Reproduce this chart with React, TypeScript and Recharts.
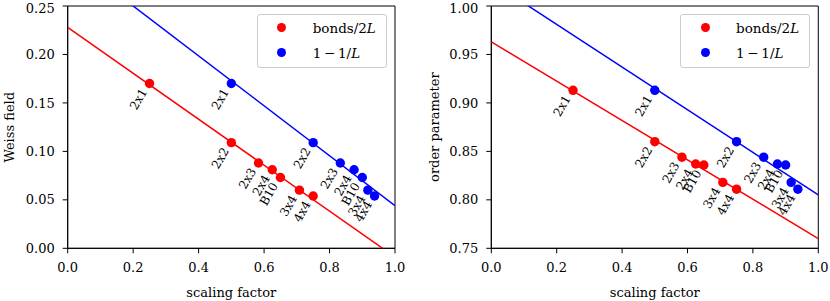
import React from "react";
import { ScatterChart, Scatter, XAxis, YAxis, ReferenceArea, Legend } from "recharts";

const FONT = '"DejaVu Serif", serif';

const sizeLabels = ["2x1", "2x2", "2x3", "2x4", "B10", "3x4", "4x4"];
const bondsScale = [0.25, 0.5, 0.583, 0.625, 0.65, 0.708, 0.75];
const invLScale = [0.5, 0.75, 0.833, 0.875, 0.9, 0.917, 0.9375];
const weissField = [0.17, 0.109, 0.088, 0.081, 0.073, 0.06, 0.054];
const orderParam = [0.913, 0.86, 0.844, 0.837, 0.836, 0.818, 0.811];

const fitX = [0, 1];
const weissBondsFit = [0.228, -0.009];
const weissInvLFit = [0.3015, 0.044];
const orderBondsFit = [0.963, 0.76];
const orderInvLFit = [1.025, 0.805];

const xTicks = [0, 0.2, 0.4, 0.6, 0.8, 1.0];
const weissTicks = [0, 0.05, 0.1, 0.15, 0.2, 0.25];
const orderTicks = [0.75, 0.8, 0.85, 0.9, 0.95, 1.0];

const RED = "#ff0000";
const BLUE = "#0000ff";

const toPoints = (xs: number[], ys: number[]) =>
  xs.map((x, i) => ({ x, y: ys[i], label: sizeLabels[i] }));
const toFit = (ys: number[]) => fitX.map((x, i) => ({ x, y: ys[i] }));

function makeDot(color: string) {
  return (props: any) => {
    const { cx, cy, payload } = props;
    const ax = cx - 2;
    const ay = cy + 8;
    return (
      <g>
        <circle cx={cx} cy={cy} r={4.7} fill={color} />
        <text
          x={ax}
          y={ay}
          transform={`rotate(-60 ${ax} ${ay})`}
          textAnchor="end"
          fontSize={12}
          fontFamily={FONT}
          fill="#000"
        >
          {payload.label}
        </text>
      </g>
    );
  };
}

const noDot = () => <g />;

function LegendBox() {
  const row = (color: string, top: number, text: React.ReactNode) => (
    <div style={{ position: "absolute", left: 0, top: top - 10, height: 20, width: "100%" }}>
      <span
        style={{
          position: "absolute",
          left: 19.5,
          top: 5.5,
          width: 9,
          height: 9,
          borderRadius: "50%",
          background: color,
        }}
      />
      <span style={{ position: "absolute", left: 55, top: 0, lineHeight: "20px", whiteSpace: "nowrap" }}>
        {text}
      </span>
    </div>
  );
  return (
    <div
      style={{
        position: "relative",
        width: 130,
        height: 54,
        boxSizing: "border-box",
        border: "1px solid #cccccc",
        borderRadius: 3,
        background: "rgba(255,255,255,0.8)",
        fontFamily: FONT,
        fontSize: 13.5,
        color: "#000",
      }}
    >
      {row(RED, 12.7, <>bonds/2<i>L</i></>)}
      {row(BLUE, 37.7, <>1{"\u2009\u2212\u2009"}1/<i>L</i></>)}
    </div>
  );
}

type PanelProps = {
  yLabel: string;
  yDomain: [number, number];
  yTicks: number[];
  yValues: number[];
  bondsFit: number[];
  invLFit: number[];
  yAxisWidth: number;
  rightMargin: number;
  labelOffset: number;
  legendLeft: number;
};

function Panel(p: PanelProps) {
  const tickStyle = { fill: "#000", fontSize: 13, fontFamily: FONT };
  return (
    <ScatterChart
      width={415}
      height={301}
      margin={{ top: 6, right: p.rightMargin, bottom: 0, left: 0 }}
      style={{ fontFamily: FONT }}
    >
      <XAxis
        type="number"
        dataKey="x"
        domain={[0, 1]}
        ticks={xTicks}
        allowDataOverflow
        tickFormatter={(v: number) => v.toFixed(1)}
        tick={tickStyle}
        tickSize={5}
        tickMargin={9}
        height={52.7}
        stroke="#000"
        tickLine={{ stroke: "#000" }}
        label={{ value: "scaling factor", position: "insideBottom", offset: 4, fill: "#000", fontSize: 13, fontFamily: FONT }}
      />
      <YAxis
        type="number"
        dataKey="y"
        domain={p.yDomain}
        ticks={p.yTicks}
        allowDataOverflow
        tickFormatter={(v: number) => v.toFixed(2)}
        tick={tickStyle}
        tickSize={5}
        tickMargin={8}
        width={p.yAxisWidth}
        stroke="#000"
        tickLine={{ stroke: "#000" }}
        label={{
          value: p.yLabel,
          angle: -90,
          position: "insideLeft",
          offset: p.labelOffset,
          fill: "#000",
          fontSize: 13,
          fontFamily: FONT,
          style: { textAnchor: "middle" },
        }}
      />
      <Scatter
        data={toFit(p.bondsFit)}
        line={{ stroke: RED, strokeWidth: 1.5 }}
        shape={noDot}
        legendType="none"
        isAnimationActive={false}
      />
      <Scatter
        data={toFit(p.invLFit)}
        line={{ stroke: BLUE, strokeWidth: 1.5 }}
        shape={noDot}
        legendType="none"
        isAnimationActive={false}
      />
      <Scatter
        name="bonds/2L"
        data={toPoints(bondsScale, p.yValues)}
        fill={RED}
        shape={makeDot(RED)}
        isAnimationActive={false}
      />
      <Scatter
        name="1-1/L"
        data={toPoints(invLScale, p.yValues)}
        fill={BLUE}
        shape={makeDot(BLUE)}
        isAnimationActive={false}
      />
      <ReferenceArea
        x1={0}
        x2={1}
        y1={p.yDomain[0]}
        y2={p.yDomain[1]}
        fill="none"
        stroke="#000"
        strokeWidth={1}
        fillOpacity={0}
      />
      <Legend
        layout="vertical"
        align="center"
        verticalAlign="middle"
        content={() => <LegendBox />}
        wrapperStyle={{ left: p.legendLeft, top: 14, width: 130, height: 54 }}
      />
    </ScatterChart>
  );
}

export default function App() {
  return (
    <div style={{ position: "absolute", left: 0, top: 0, width: 830, height: 301, display: "flex", background: "#fff" }}>
      <Panel
        yLabel="Weiss field"
        yDomain={[0, 0.25]}
        yTicks={weissTicks}
        yValues={weissField}
        bondsFit={weissBondsFit}
        invLFit={weissInvLFit}
        yAxisWidth={67.7}
        rightMargin={20}
        labelOffset={9}
        legendLeft={256.7}
      />
      <Panel
        yLabel="order parameter"
        yDomain={[0.75, 1.0]}
        yTicks={orderTicks}
        yValues={orderParam}
        bondsFit={orderBondsFit}
        invLFit={orderInvLFit}
        yAxisWidth={76.3}
        rightMargin={11.7}
        labelOffset={19}
        legendLeft={265}
      />
    </div>
  );
}
